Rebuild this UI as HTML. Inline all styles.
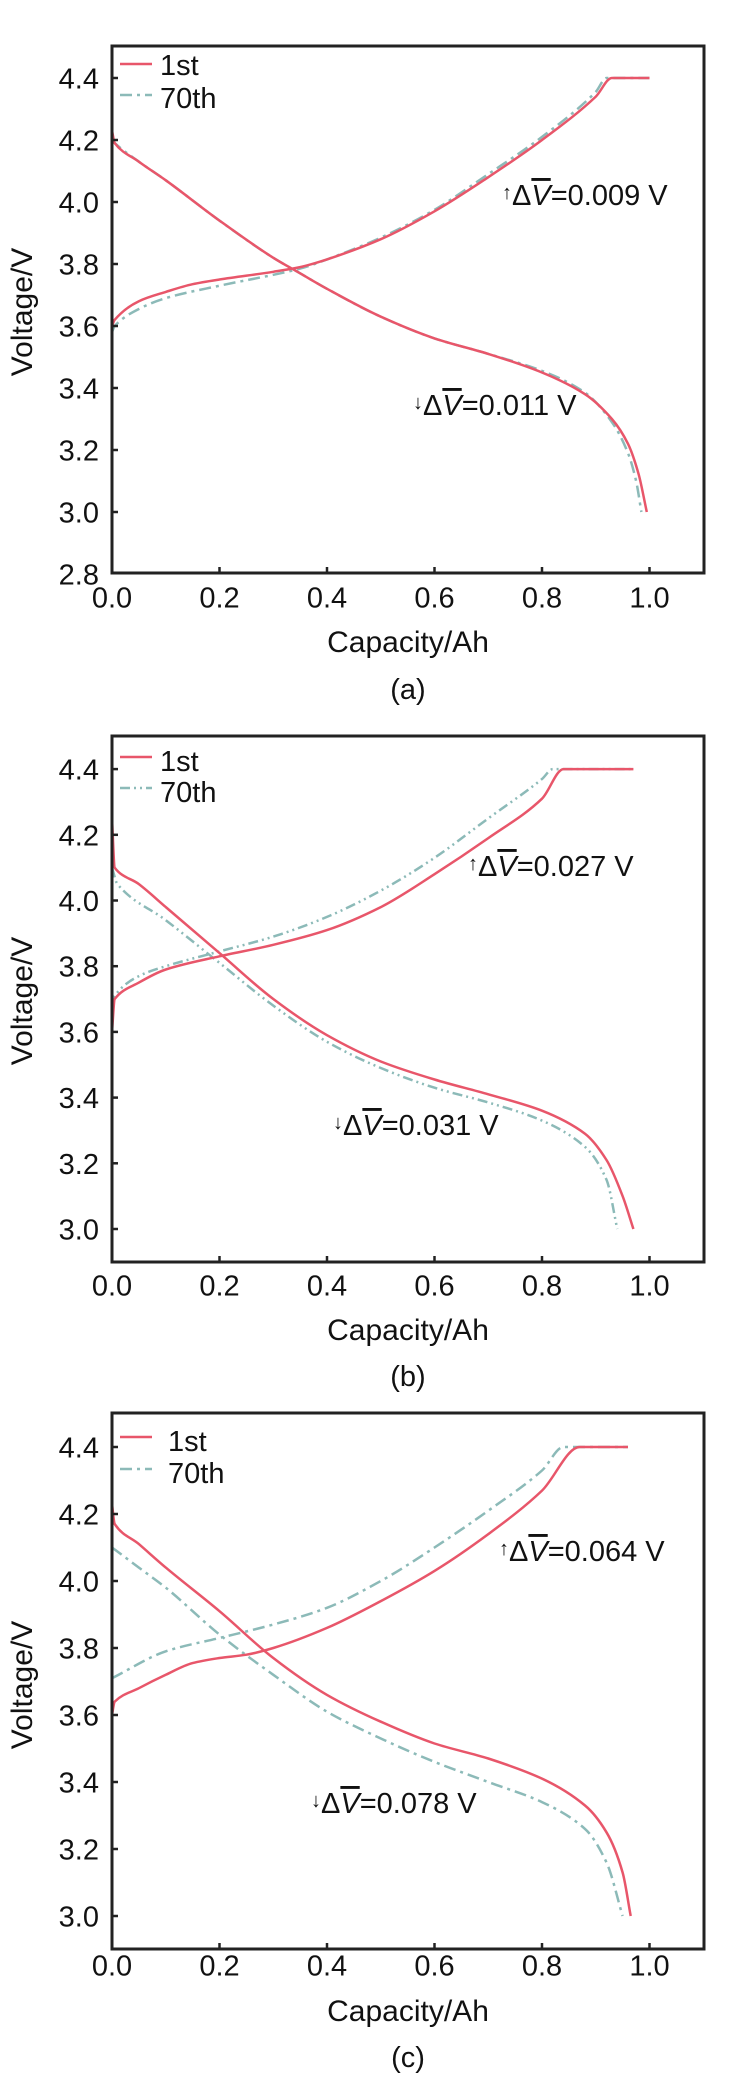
<!DOCTYPE html>
<html><head><meta charset="utf-8"><style>
html,body{margin:0;padding:0;background:#fff}
svg{display:block}
text{font-family:"Liberation Sans",Arial,sans-serif;fill:#111}
</style></head><body>
<svg id="s" width="730" height="2088" xmlns="http://www.w3.org/2000/svg"></svg>
<script>
const NS="http://www.w3.org/2000/svg";
const S=document.getElementById('s');
function el(t,a,txt){const e=document.createElementNS(NS,t);for(const k in a)e.setAttribute(k,a[k]);if(txt!==undefined)e.textContent=txt;S.appendChild(e);return e;}
const RED="#e8566a",TEAL="#8cbab8";
const panels=[
 {top:46,bot:573,y30:512,k:310,ymin:2.8,yt:[2.8,3.0,3.2,3.4,3.6,3.8,4.0,4.2,4.4],xl:597,cap:641,lab:689,lbl:"(a)",vy:312,
  leg:[64,75,95,108],legx:160,dash:"12 5 3 5",
  up:[502,205,"0.009"],dn:[413,415,"0.011"],
  c1:[[0,3.6],[0.005,3.62],[0.05,3.68],[0.1,3.71],[0.15,3.735],[0.2,3.75],[0.3,3.775],[0.35,3.79],[0.4,3.815],[0.5,3.88],[0.6,3.97],[0.7,4.08],[0.8,4.2],[0.9,4.34],[0.93,4.4],[1.0,4.4]],
  c70:[[0,3.58],[0.005,3.6],[0.05,3.655],[0.1,3.69],[0.2,3.73],[0.3,3.765],[0.35,3.785],[0.4,3.815],[0.5,3.885],[0.6,3.975],[0.7,4.09],[0.8,4.21],[0.9,4.355],[0.92,4.4],[1.0,4.4]],
  d1:[[0,4.23],[0.005,4.19],[0.05,4.13],[0.1,4.07],[0.2,3.94],[0.3,3.82],[0.35,3.77],[0.4,3.72],[0.5,3.63],[0.6,3.56],[0.7,3.51],[0.8,3.45],[0.88,3.38],[0.93,3.3],[0.96,3.22],[0.98,3.12],[0.995,3.0]],
  d70:[[0,4.2],[0.005,4.19],[0.05,4.13],[0.1,4.07],[0.2,3.94],[0.3,3.82],[0.35,3.77],[0.4,3.72],[0.5,3.63],[0.6,3.56],[0.7,3.51],[0.8,3.455],[0.88,3.385],[0.93,3.29],[0.96,3.19],[0.975,3.1],[0.985,3.0]]},
 {top:736,bot:1262,y30:1229,k:328.5,ymin:2.9,yt:[3.0,3.2,3.4,3.6,3.8,4.0,4.2,4.4],xl:1285,cap:1329,lab:1376,lbl:"(b)",vy:1001,
  leg:[757,771,788,802],legx:160,dash:"10 4 2 4 2 4",
  up:[468,876,"0.027"],dn:[333,1135,"0.031"],
  c1:[[0,3.6],[0.005,3.7],[0.05,3.75],[0.1,3.79],[0.2,3.83],[0.3,3.865],[0.4,3.91],[0.5,3.98],[0.6,4.08],[0.7,4.19],[0.8,4.31],[0.84,4.4],[0.97,4.4]],
  c70:[[0,3.68],[0.005,3.71],[0.05,3.77],[0.1,3.8],[0.2,3.845],[0.3,3.89],[0.4,3.95],[0.5,4.03],[0.6,4.13],[0.7,4.25],[0.8,4.37],[0.82,4.4],[0.97,4.4]],
  d1:[[0,4.25],[0.005,4.1],[0.05,4.05],[0.1,3.98],[0.2,3.84],[0.3,3.7],[0.4,3.59],[0.5,3.51],[0.6,3.455],[0.7,3.41],[0.8,3.36],[0.88,3.29],[0.92,3.21],[0.95,3.1],[0.97,3.0]],
  d70:[[0,4.1],[0.01,4.05],[0.1,3.94],[0.2,3.81],[0.3,3.68],[0.4,3.57],[0.5,3.49],[0.6,3.43],[0.7,3.385],[0.8,3.33],[0.88,3.25],[0.92,3.15],[0.94,3.0]]},
 {top:1413,bot:1949,y30:1916,k:335,ymin:2.9,yt:[3.0,3.2,3.4,3.6,3.8,4.0,4.2,4.4],xl:1965,cap:2010,lab:2057,lbl:"(c)",vy:1685,
  leg:[1437,1451,1469,1483],legx:168,dash:"12 5 3 5",
  up:[499,1561,"0.064"],dn:[311,1813,"0.078"],
  c1:[[0,3.6],[0.005,3.64],[0.05,3.68],[0.1,3.72],[0.15,3.755],[0.2,3.77],[0.25,3.78],[0.3,3.8],[0.4,3.86],[0.5,3.94],[0.6,4.03],[0.7,4.14],[0.8,4.27],[0.87,4.4],[0.96,4.4]],
  c70:[[0,3.71],[0.1,3.79],[0.2,3.83],[0.3,3.87],[0.4,3.92],[0.5,4.0],[0.6,4.1],[0.7,4.21],[0.8,4.33],[0.84,4.4],[0.96,4.4]],
  d1:[[0,4.23],[0.005,4.17],[0.05,4.11],[0.1,4.04],[0.2,3.91],[0.3,3.77],[0.4,3.66],[0.5,3.58],[0.6,3.515],[0.7,3.47],[0.8,3.41],[0.88,3.33],[0.92,3.25],[0.95,3.13],[0.965,3.0]],
  d70:[[0,4.1],[0.05,4.04],[0.1,3.98],[0.2,3.84],[0.3,3.72],[0.4,3.61],[0.5,3.53],[0.6,3.46],[0.7,3.4],[0.8,3.34],[0.88,3.26],[0.92,3.16],[0.95,3.0]]}
];
const L=112,R=704,XK=537.5;
function path(P,pts){
 const p=pts.map(q=>[L+XK*q[0],P.y30-P.k*(q[1]-3)]);
 const n=p.length, d=[], m=new Array(n);
 for(let i=0;i<n-1;i++) d.push((p[i+1][1]-p[i][1])/(p[i+1][0]-p[i][0]));
 m[0]=d[0]; m[n-1]=d[n-2];
 for(let i=1;i<n-1;i++){ if(d[i-1]*d[i]<=0) m[i]=0; else m[i]=2/(1/d[i-1]+1/d[i]); }
 let s="M"+p[0][0].toFixed(1)+" "+p[0][1].toFixed(1);
 for(let i=0;i<n-1;i++){
  const h=(p[i+1][0]-p[i][0])/3;
  s+=" C"+(p[i][0]+h).toFixed(1)+" "+(p[i][1]+m[i]*h).toFixed(1)+" "+(p[i+1][0]-h).toFixed(1)+" "+(p[i+1][1]-m[i+1]*h).toFixed(1)+" "+p[i+1][0].toFixed(1)+" "+p[i+1][1].toFixed(1);
 }
 return s;
}
for(const P of panels){
 el('path',{d:path(P,P.d70),fill:'none',stroke:TEAL,'stroke-width':2.5,'stroke-dasharray':P.dash});
 el('path',{d:path(P,P.c70),fill:'none',stroke:TEAL,'stroke-width':2.5,'stroke-dasharray':P.dash});
 el('path',{d:path(P,P.d1),fill:'none',stroke:RED,'stroke-width':2.5});
 el('path',{d:path(P,P.c1),fill:'none',stroke:RED,'stroke-width':2.5});
 el('rect',{x:L,y:P.top,width:R-L,height:P.bot-P.top,fill:'none',stroke:'#222','stroke-width':3});
 for(const v of P.yt){const y=P.y30-P.k*(v-3);
  if(v>P.ymin+0.01) el('line',{x1:L,x2:L+6,y1:y,y2:y,stroke:'#222','stroke-width':2.5});
  el('text',{x:99,y:y+10.5,'font-size':29,'text-anchor':'end'},v.toFixed(1));}
 for(let i=0;i<=5;i++){const x=L+XK*0.2*i;
  if(i>0) el('line',{x1:x,x2:x,y1:P.bot,y2:P.bot-6,stroke:'#222','stroke-width':2.5});
  el('text',{x:x,y:P.xl+10.5,'font-size':29,'text-anchor':'middle'},(0.2*i).toFixed(1));}
 el('text',{x:408,y:P.cap+11,'font-size':30,'text-anchor':'middle'},"Capacity/Ah");
 el('text',{x:408,y:P.lab+10,'font-size':29,'text-anchor':'middle'},P.lbl);
 el('text',{x:0,y:0,'font-size':30,'text-anchor':'middle',transform:`translate(32 ${P.vy}) rotate(-90)`},"Voltage/V");
 el('line',{x1:120,x2:152,y1:P.leg[0],y2:P.leg[0],stroke:RED,'stroke-width':2.5});
 el('text',{x:P.legx,y:P.leg[1],'font-size':29},"1st");
 el('line',{x1:120,x2:152,y1:P.leg[2],y2:P.leg[2],stroke:TEAL,'stroke-width':2.5,'stroke-dasharray':P.dash});
 el('text',{x:P.legx,y:P.leg[3],'font-size':29},"70th");
 for(const [a,arr] of [[P.up,"↑"],[P.dn,"↓"]]){
  const t=el('text',{x:a[0],y:a[1],'font-size':29});
  const s1=document.createElementNS(NS,'tspan');s1.setAttribute('font-size','20');s1.setAttribute('dy','-6');s1.textContent=arr;t.appendChild(s1);
  const s2=document.createElementNS(NS,'tspan');s2.setAttribute('dy','6');s2.textContent="Δ";t.appendChild(s2);
  const s3=document.createElementNS(NS,'tspan');s3.setAttribute('font-style','italic');s3.setAttribute('text-decoration','overline');s3.textContent="V";t.appendChild(s3);
  const s4=document.createElementNS(NS,'tspan');s4.textContent="="+a[2]+" V";t.appendChild(s4);
 }
}
</script>
</body></html>
